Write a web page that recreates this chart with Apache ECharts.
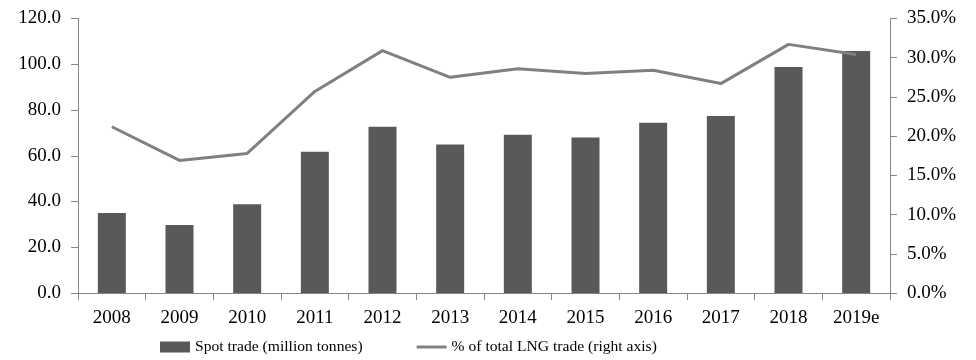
<!DOCTYPE html>
<html><head><meta charset="utf-8">
<script src="https://cdn.jsdelivr.net/npm/echarts@6/dist/echarts.min.js"></script>
<style>html,body{margin:0;padding:0;background:#fff}#c{width:976px;height:360px}</style>
</head><body><div id="c"></div>
<script>
const categories = ['2008','2009','2010','2011','2012','2013','2014','2015','2016','2017','2018','2019e'];
const spotTrade = [35.0, 29.7, 38.8, 61.8, 72.7, 64.9, 69.2, 68.0, 74.4, 77.4, 98.8, 105.8];
const shareOfTotal = [21.2, 16.9, 17.8, 25.7, 30.9, 27.5, 28.6, 28.0, 28.4, 26.7, 31.7, 30.4];
const leftTicks = {min: 0, max: 120, interval: 20};
const rightTicks = {min: 0, max: 35, interval: 5};
const names = ['Spot trade (million tonnes)', '% of total LNG trade (right axis)'];

const font = 'Liberation Serif, Times New Roman, serif';
const axisGray = '#868686';
const chart = echarts.init(document.getElementById('c'));
chart.setOption({
  animation: false,
  textStyle: {fontFamily: font},
  grid: {left: 78, right: 86, top: 18.5, bottom: 67},
  legend: {
    left: 155, top: 334, itemGap: 54, itemWidth: 30, itemHeight: 11,
    textStyle: {fontFamily: font, fontSize: 15.6, color: '#000'},
    data: [
      {name: names[0], icon: 'rect'},
      {name: names[1], icon: 'path://M0,0H30V3H0Z', itemStyle: {color: '#808080'}}
    ]
  },
  xAxis: {
    type: 'category', data: categories,
    axisLine: {lineStyle: {color: axisGray}},
    axisTick: {show: true, length: 7, lineStyle: {color: axisGray}},
    axisLabel: {fontFamily: font, fontSize: 19, color: '#000', margin: 16}
  },
  yAxis: [{
    type: 'value', min: leftTicks.min, max: leftTicks.max, interval: leftTicks.interval,
    axisLine: {show: true, lineStyle: {color: axisGray}},
    axisTick: {show: true, length: 7, lineStyle: {color: axisGray}},
    splitLine: {show: false},
    axisLabel: {fontFamily: font, fontSize: 19, color: '#000', margin: 17, formatter: v => v.toFixed(1)}
  }, {
    type: 'value', position: 'right', min: rightTicks.min, max: rightTicks.max, interval: rightTicks.interval,
    axisLine: {show: true, lineStyle: {color: axisGray}},
    axisTick: {show: true, length: 7, lineStyle: {color: axisGray}},
    splitLine: {show: false},
    axisLabel: {fontFamily: font, fontSize: 19, color: '#000', margin: 17, formatter: v => v.toFixed(1) + '%'}
  }],
  series: [{
    name: names[0], type: 'bar', data: spotTrade, barWidth: 28,
    itemStyle: {color: '#595959'}
  }, {
    name: names[1], type: 'line', yAxisIndex: 1, data: shareOfTotal,
    symbol: 'none', lineStyle: {color: '#808080', width: 3}, itemStyle: {color: '#808080'}
  }]
});
</script></body></html>
